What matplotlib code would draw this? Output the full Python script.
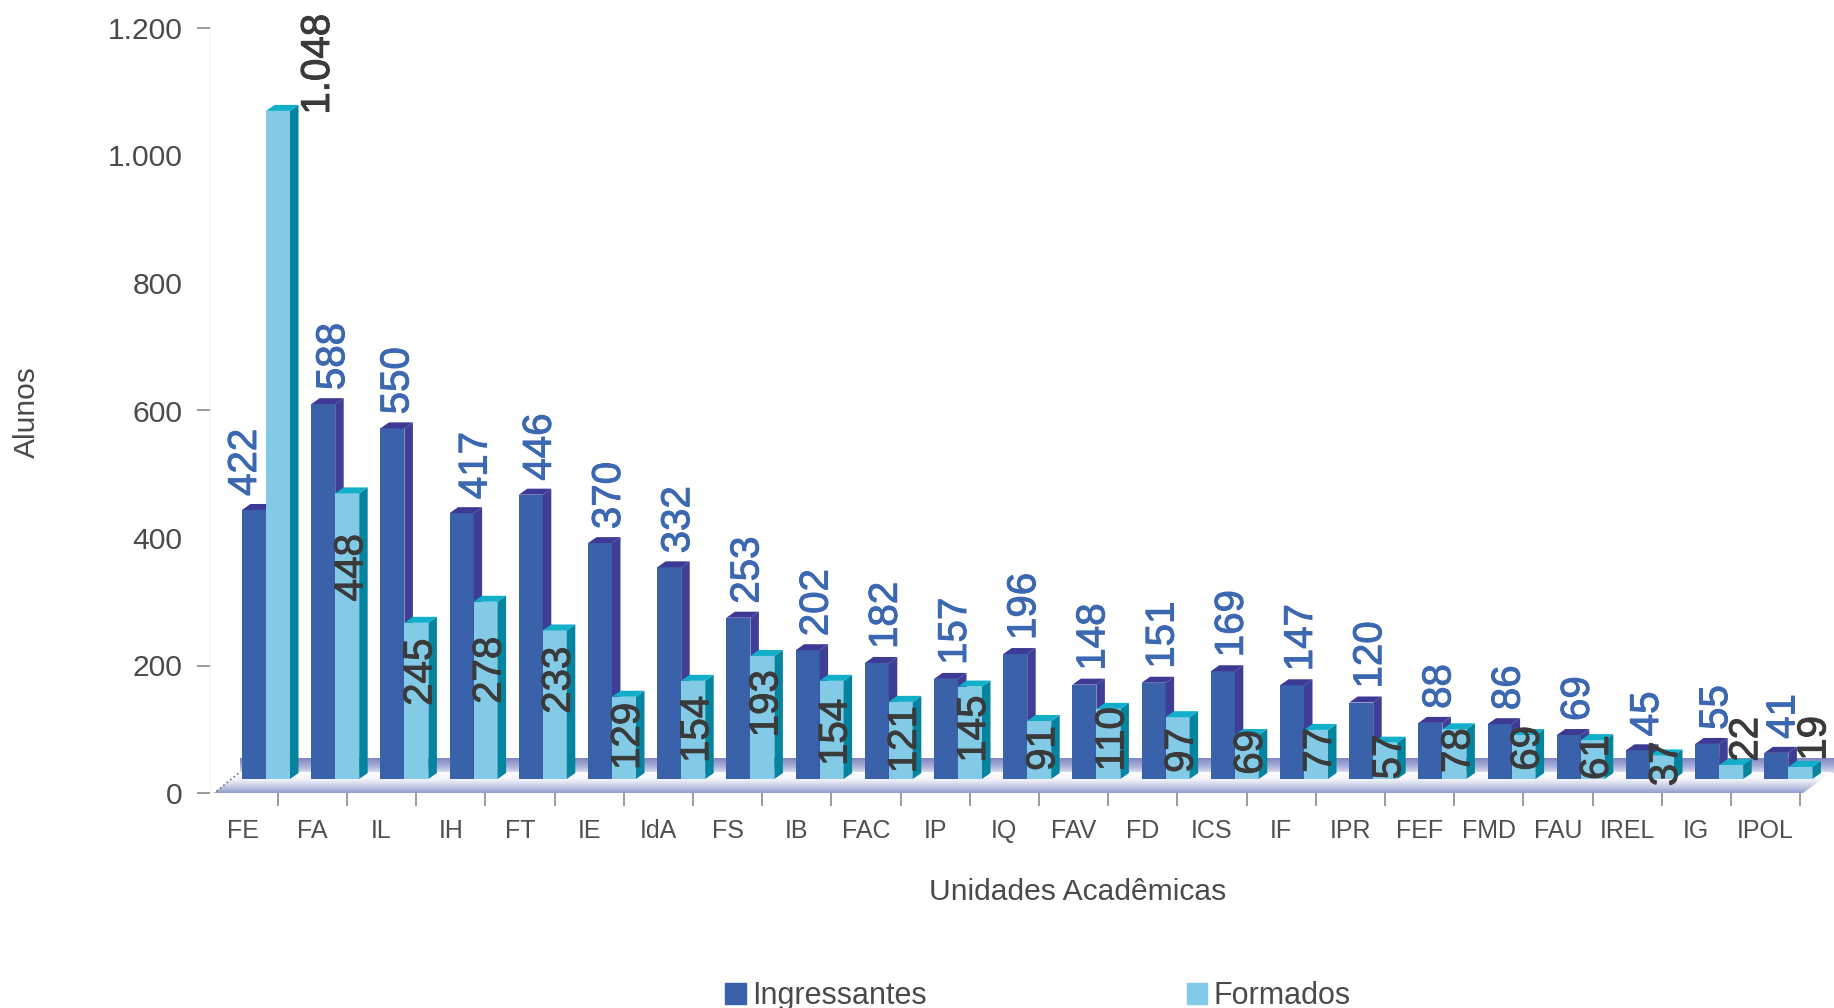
import matplotlib
matplotlib.use("Agg")
import matplotlib.pyplot as plt
import matplotlib.patheffects as pe
import numpy as np
from matplotlib.patches import Patch, Polygon

plt.rcParams["font.family"] = ["Liberation Sans", "DejaVu Sans"]

units = ["FE", "FA", "IL", "IH", "FT", "IE", "IdA", "FS", "IB", "FAC", "IP", "IQ",
         "FAV", "FD", "ICS", "IF", "IPR", "FEF", "FMD", "FAU", "IREL", "IG", "IPOL"]
ingressantes = [422, 588, 550, 417, 446, 370, 332, 253, 202, 182, 157, 196,
                148, 151, 169, 147, 120, 88, 86, 69, 45, 55, 41]
formados = [1048, 448, 245, 278, 233, 129, 154, 193, 154, 121, 145, 91,
            110, 97, 69, 77, 57, 78, 69, 61, 37, 22, 19]
y_ticks = [0, 200, 400, 600, 800, 1000, 1200]
y_tick_labels = ["0", "200", "400", "600", "800", "1.000", "1.200"]

# the value labels sit a bit irregularly in the original (pixels)
in_label_dx = [-9, 10, 5, 14] + [9] * 18 + [7]
fo_label_dx = [40] + [4] * 20 + [15, 14]
fo_label_gap = [-97, 41, 16, 35, 16, 6, 15, 14, 18, 4, 9, 5, -2, 11, -5, -2,
                -8, -1, -9, -5, -14, -48, -51]

PX_W, PX_H = 1834, 1008
LEFT, RIGHT, TOP, BOTTOM = 213, 1834, 28, 793
STEP = 69.2
PER_UNIT = (BOTTOM - TOP) / 1200
X0 = 266

DARK = ("#3A62AA", "#3F3E96", "#3C3A94")
LIGHT = ("#83CAE6", "#04849F", "#12AFCB")


def px_x(px):
    return px / STEP


def px_y(px):
    return px / PER_UNIT


def gradient(ax, colors, x0, x1, y0, y1, clip=None):
    cmap = matplotlib.colors.LinearSegmentedColormap.from_list("g", colors)
    img = ax.imshow(np.linspace(0, 1, 64).reshape(-1, 1), cmap=cmap, aspect="auto",
                    extent=(x0, x1, y0, y1), origin="upper", zorder=1)
    if clip is not None:
        img.set_clip_path(clip)
    return img


def bar_3d(ax, x, width, base, value, colors, zorder):
    front, side, top = colors
    dx, dy = px_x(8.5), px_y(6)
    y1 = base + value
    ax.bar(x, value, width, bottom=base, align="edge", color=front, linewidth=0, zorder=zorder)
    ax.add_patch(Polygon([(x + width, base), (x + width + dx, base + dy),
                          (x + width + dx, y1 + dy), (x + width, y1)],
                         closed=True, color=side, linewidth=0, zorder=zorder))
    ax.add_patch(Polygon([(x, y1), (x + dx, y1 + dy), (x + width + dx, y1 + dy), (x + width, y1)],
                         closed=True, color=top, linewidth=0, zorder=zorder))


fig = plt.figure(figsize=(PX_W / 100, PX_H / 100), dpi=100)
ax = fig.add_axes([LEFT / PX_W, (PX_H - BOTTOM) / PX_H,
                   (RIGHT - LEFT) / PX_W, (BOTTOM - TOP) / PX_H])
x_lo, x_hi = (LEFT - X0) / STEP, (RIGHT - X0) / STEP
ax.set_xlim(x_lo, x_hi)
ax.set_ylim(0, 1200)

# back wall band and floor
base = px_y(14)
gradient(ax, ["#8088C4", "#A4ABD6", "#DDE0F0"], px_x(-26), x_hi, px_y(20), px_y(35))
floor = Polygon([(x_lo, px_y(-1)), (x_lo + px_x(27), px_y(21)), (x_hi, px_y(23)),
                 (x_lo + px_x(1590), px_y(0))], closed=True, transform=ax.transData)
gradient(ax, ["#FFFFFF", "#F2F3F9", "#C5CAE4", "#8A96CB"], x_lo, x_hi, px_y(-1), px_y(21), clip=floor)
ax.plot([x_lo, x_lo + px_x(27)], [px_y(-1), px_y(21)], ls=":", lw=1.2, color="#777777", zorder=2)

width = px_x(24)
for i in range(len(units)):
    x = i - width
    bar_3d(ax, x, width, base, ingressantes[i], DARK, 3)
    bar_3d(ax, i, width, base, formados[i], LIGHT, 3)

stroke = [pe.withStroke(linewidth=0.7, foreground="#3C68B1")]
stroke_dark = [pe.withStroke(linewidth=0.7, foreground="#3A3A3A")]
for i in range(len(units)):
    ax.annotate(str(ingressantes[i]), (i - width / 2, base + ingressantes[i]),
                xytext=(in_label_dx[i] * 0.72, 14 * 0.72), textcoords="offset points",
                rotation=90, ha="center", va="bottom", fontsize=29, color="#3C68B1",
                path_effects=stroke, annotation_clip=False, zorder=5)
    label = f"{formados[i] / 1000:.3f}" if formados[i] >= 1000 else str(formados[i])
    ax.annotate(label, (i + width / 2, base + formados[i]),
                xytext=(fo_label_dx[i] * 0.72, -fo_label_gap[i] * 0.72), textcoords="offset points",
                rotation=90, ha="center", va="top", fontsize=29, color="#3A3A3A",
                path_effects=stroke_dark, annotation_clip=False, zorder=5)

# axes
for name in ("top", "right", "bottom"):
    ax.spines[name].set_visible(False)
ax.spines["left"].set_position(("outward", 2.2))
ax.spines["left"].set_color("#F2F2F2")

ax.set_yticks(y_ticks)
ax.set_yticklabels(y_tick_labels)
ax.tick_params(axis="y", length=9.4, width=1.2, color="#8A8A8A", labelsize=21.6,
               labelcolor="#4A4A4A", pad=10.5)
for value, tick in zip(y_ticks, ax.yaxis.get_major_ticks()):
    if value in (400, 800, 1000):
        tick.tick1line.set_visible(False)

ax.set_xticks(np.arange(len(units)) - 0.33)
ax.set_xticklabels(units)
ax.set_xticks(np.arange(len(units)) + 0.17, minor=True)
ax.tick_params(axis="x", which="major", length=0, labelsize=18, labelcolor="#4F4F4F", pad=18.4)
ax.tick_params(axis="x", which="minor", length=9, width=1.2, color="#8A8A8A")

ax.set_ylabel("Alunos", fontsize=21.6, color="#4A4A4A", va="center")
ax.yaxis.set_label_coords((27 - LEFT) / (RIGHT - LEFT), (BOTTOM - 412) / (BOTTOM - TOP))
ax.set_xlabel("Unidades Acadêmicas", fontsize=21.6, color="#4A4A4A", va="center")
ax.xaxis.set_label_coords((1078 - LEFT) / (RIGHT - LEFT), (BOTTOM - 892) / (BOTTOM - TOP))

handles = [Patch(color=DARK[0], label="Ingressantes"), Patch(color=LIGHT[0], label="Formados")]
fig.legend(handles=handles, ncol=2, loc="center", bbox_to_anchor=(1038 / PX_W, 1 - 996 / PX_H),
           frameon=False, fontsize=22, labelcolor="#4A4A4A", handlelength=0.68, handleheight=0.68,
           handletextpad=0.2, columnspacing=8.5)

fig.savefig("out.png", dpi=100)
